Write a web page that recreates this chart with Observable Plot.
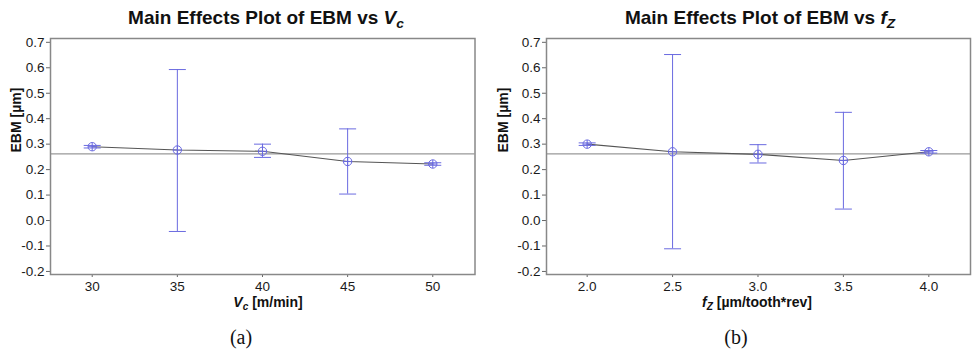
<!DOCTYPE html>
<html>
<head>
<meta charset="utf-8">
<script src="https://cdn.jsdelivr.net/npm/d3@7"></script>
<script src="https://cdn.jsdelivr.net/npm/@observablehq/plot@0.6"></script>
<style>
  html, body { margin: 0; padding: 0; background: #fff; }
  #root { position: relative; width: 973px; height: 352px; overflow: hidden; font-family: "Liberation Sans", Arial, sans-serif; color: #111; }
  .abs { position: absolute; white-space: nowrap; }
  .title { font-weight: bold; font-size: 19px; line-height: 22px; transform: translateX(-50%); top: 7px; }
  .xlab { font-weight: bold; font-size: 14px; line-height: 13px; transform: translateX(-50%); top: 296px; }
  .sub { font-family: "Liberation Serif", "Times New Roman", serif; font-size: 20px; line-height: 22px; transform: translateX(-50%); top: 326px; }
  sub { font-size: 0.72em; vertical-align: -0.3em; line-height: 0; }
  .panel { position: absolute; top: 30px; }
</style>
</head>
<body>
<div id="root">
  <div class="abs title" style="left:266px">Main Effects Plot of EBM vs <i>V<sub>c</sub></i></div>
  <div class="abs title" style="left:760px">Main Effects Plot of EBM vs <i>f<sub>Z</sub></i></div>
  <div class="panel" id="pa" style="left:0px"></div>
  <div class="panel" id="pb" style="left:487px"></div>
  <div class="abs xlab" style="left:268px"><i>V<sub>c</sub></i> [m/min]</div>
  <div class="abs xlab" style="left:757px"><i>f<sub>Z</sub></i> [µm/tooth*rev]</div>
  <div class="abs sub" style="left:241px">(a)</div>
  <div class="abs sub" style="left:736px">(b)</div>
</div>
<script>
// ---- data ----
const vcLevels = [30, 35, 40, 45, 50];
const vcMean   = [0.290, 0.277, 0.272, 0.232, 0.222];
const vcLower  = [0.285, -0.043, 0.248, 0.104, 0.217];
const vcUpper  = [0.295, 0.593, 0.300, 0.360, 0.227];

const fzLevels = [2.0, 2.5, 3.0, 3.5, 4.0];
const fzMean   = [0.300, 0.270, 0.260, 0.236, 0.270];
const fzLower  = [0.295, -0.111, 0.226, 0.045, 0.265];
const fzUpper  = [0.305, 0.652, 0.298, 0.425, 0.275];

const overallMean = 0.262;

const yTicks = [-0.2, -0.1, 0.0, 0.1, 0.2, 0.3, 0.4, 0.5, 0.6, 0.7];
const vcTicks = [30, 35, 40, 45, 50];
const fzTicks = [2.0, 2.5, 3.0, 3.5, 4.0];
const yLabel = "EBM [µm]";

// ---- symbols ----
const circlePlus = {
  draw(ctx, size) {
    const r = Math.sqrt(size / Math.PI);
    ctx.moveTo(r, 0);
    ctx.arc(0, 0, r, 0, 2 * Math.PI);
    ctx.moveTo(-r, 0); ctx.lineTo(r, 0);
    ctx.moveTo(0, -r); ctx.lineTo(0, r);
  }
};
const capSymbol = {
  draw(ctx, size) {
    const w = Math.sqrt(size / Math.PI);
    ctx.moveTo(-w, 0); ctx.lineTo(w, 0);
  }
};

const blue = "#6a6ae0";
const tickFont = 13.5;

function panel(levels, mean, lower, upper, xTicks, xDomain, opts) {
  const rows = levels.map((x, i) => ({x, m: mean[i], lo: lower[i], hi: upper[i]}));
  return Plot.plot({
    width: opts.width,
    height: 266,
    marginLeft: opts.marginLeft,
    marginRight: opts.marginRight,
    marginTop: 8,
    marginBottom: 22,
    style: {fontFamily: "'Liberation Sans', Arial, sans-serif", background: "white"},
    x: {domain: xDomain},
    y: {domain: [-0.212, 0.715]},
    marks: [
      Plot.axisX({ticks: xTicks, tickFormat: opts.xFormat, tickSize: 3, tickPadding: 4, label: null, fontSize: tickFont, fill: "#1a1a1a", stroke: "#666"}),
      Plot.axisY({ticks: yTicks, tickFormat: d => d.toFixed(1), tickSize: 4, tickPadding: 2, label: null, fontSize: tickFont, fill: "#1a1a1a", stroke: "#666"}),
      Plot.ruleY([overallMean], {stroke: "#999", strokeWidth: 1.2}),
      Plot.line(rows, {x: "x", y: "m", stroke: "#555", strokeWidth: 1.1}),
      Plot.ruleX(rows, {x: "x", y1: "lo", y2: "hi", stroke: blue, strokeWidth: 1}),
      Plot.dot(rows, {x: "x", y: "lo", symbol: capSymbol, r: 8.5, stroke: blue, strokeWidth: 1, fill: "none"}),
      Plot.dot(rows, {x: "x", y: "hi", symbol: capSymbol, r: 8.5, stroke: blue, strokeWidth: 1, fill: "none"}),
      Plot.dot(rows, {x: "x", y: "m", symbol: circlePlus, r: 4.2, stroke: blue, strokeWidth: 1, fill: "none"}),
      Plot.frame({stroke: "#888", strokeWidth: 1.5}),
      Plot.text([yLabel], {frameAnchor: "left", rotate: -90, dx: -opts.marginLeft + 16, dy: -4, fontWeight: "bold", fontSize: 14, fill: "#111"})
    ]
  });
}

document.getElementById("pa").append(
  panel(vcLevels, vcMean, vcLower, vcUpper, vcTicks, [27.55, 52.48],
        {width: 487, marginLeft: 50, marginRight: 12.5, xFormat: d => String(d)})
);
document.getElementById("pb").append(
  panel(fzLevels, fzMean, fzLower, fzUpper, fzTicks, [1.762, 4.244],
        {width: 486, marginLeft: 59, marginRight: 3, xFormat: d => d.toFixed(1)})
);
</script>
</body>
</html>
